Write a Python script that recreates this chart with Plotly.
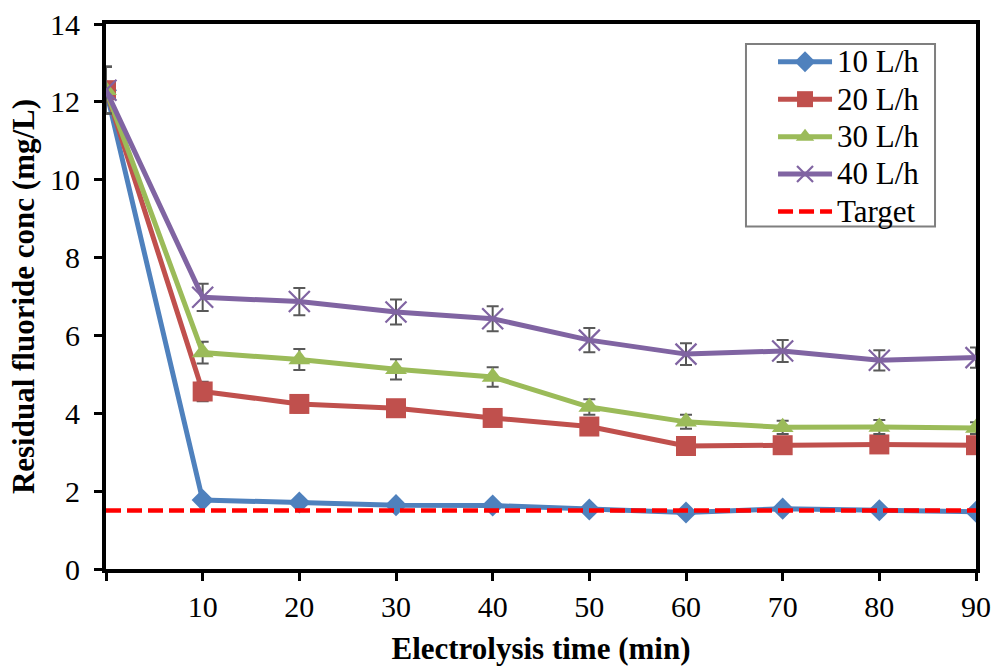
import plotly.graph_objects as go

# Electrolysis time (min)
time_min = [0, 10, 20, 30, 40, 50, 60, 70, 80, 90]

# Residual fluoride concentration (mg/L) for each flow rate, with error estimates
conc_10 = [12.3, 1.77, 1.71, 1.64, 1.63, 1.53, 1.45, 1.55, 1.51, 1.47]
err_10 = [0.6, 0.08, 0.08, 0.07, 0.07, 0.06, 0.06, 0.06, 0.06, 0.06]

conc_20 = [12.3, 4.56, 4.24, 4.13, 3.88, 3.66, 3.16, 3.18, 3.20, 3.18]
err_20 = [0.6, 0.25, 0.22, 0.20, 0.20, 0.18, 0.16, 0.16, 0.16, 0.16]

conc_30 = [12.3, 5.56, 5.38, 5.13, 4.93, 4.16, 3.78, 3.64, 3.65, 3.62]
err_30 = [0.6, 0.28, 0.27, 0.26, 0.25, 0.20, 0.18, 0.17, 0.18, 0.15]

conc_40 = [12.3, 6.98, 6.87, 6.60, 6.43, 5.88, 5.52, 5.60, 5.36, 5.43]
err_40 = [0.6, 0.35, 0.35, 0.32, 0.32, 0.31, 0.28, 0.28, 0.26, 0.26]

target_level = 1.5
target = [target_level] * len(time_min)

series_names = ["10 L/h", "20 L/h", "30 L/h", "40 L/h"]
x_tick_vals = [0, 10, 20, 30, 40, 50, 60, 70, 80, 90]
x_tick_text = ["", "10", "20", "30", "40", "50", "60", "70", "80", "90"]
y_tick_vals = [0, 2, 4, 6, 8, 10, 12, 14]

FONT = "Liberation Serif, Times New Roman, serif"
ERR_COLOR = "#595959"
LEGEND_TEXT_PX = 31


def legend_label(text):
    return f'<span style="font-size:{LEGEND_TEXT_PX}px">{text}</span>'


styles = [
    dict(color="#4F81BD", symbol="diamond", size=17),
    dict(color="#C0504D", symbol="square", size=20),
    dict(color="#9BBB59", symbol="triangle-up", size=19),
    dict(color="#8064A2", symbol="x-thin", size=21),
]

fig = go.Figure()

for name, y, err, st in zip(series_names,
                            [conc_10, conc_20, conc_30, conc_40],
                            [err_10, err_20, err_30, err_40],
                            styles):
    marker = dict(symbol=st["symbol"], size=st["size"], color=st["color"])
    if st["symbol"] == "x-thin":
        marker["line"] = dict(color=st["color"], width=2.2)
    fig.add_trace(go.Scatter(
        x=time_min, y=y, name=legend_label(name), mode="lines+markers",
        line=dict(color=st["color"], width=5),
        marker=marker,
        error_y=dict(type="data", array=err, visible=True,
                     color=ERR_COLOR, thickness=2, width=6),
    ))

fig.add_trace(go.Scatter(
    x=time_min, y=target, name=legend_label("Target"), mode="lines",
    line=dict(color="#FF0000", width=4.5, dash="15px,6px"),
))

axis_common = dict(
    showline=True, linecolor="black", linewidth=4, mirror=True,
    ticks="outside", tickcolor="black", tickwidth=3, ticklen=8,
    showgrid=False, zeroline=False, automargin=False,
    tickfont=dict(family=FONT, size=30, color="black"),
)

fig.update_xaxes(
    range=[0, 90], tickvals=x_tick_vals, ticktext=x_tick_text,
    title=dict(text="<b>Electrolysis time (min)</b>",
               font=dict(family=FONT, size=31, color="black"), standoff=17),
    **axis_common,
)
fig.update_yaxes(
    range=[0, 14], tickvals=y_tick_vals, ticklabelstandoff=8,
    title=dict(text="<b>Residual fluoride conc (mg/L)</b>",
               font=dict(family=FONT, size=31, color="black"), standoff=7),
    **axis_common,
)

# Legend frame
fig.add_shape(
    type="rect", xref="paper", yref="paper",
    x0=0.7356, x1=0.9529, y0=0.6284, y1=0.9633,
    line=dict(color="#7F7F7F", width=2), fillcolor="white", layer="above",
)

fig.update_layout(
    width=995, height=666,
    margin=dict(l=106, r=19, t=24, b=97),
    paper_bgcolor="white", plot_bgcolor="white",
    font=dict(family=FONT, color="black"),
    legend=dict(
        x=0.7667, y=0.9743, xanchor="left", yanchor="top",
        bgcolor="rgba(0,0,0,0)", borderwidth=0,
        font=dict(family=FONT, size=26.5, color="black"),
        itemwidth=54,
    ),
)

fig.write_html("out.html")
